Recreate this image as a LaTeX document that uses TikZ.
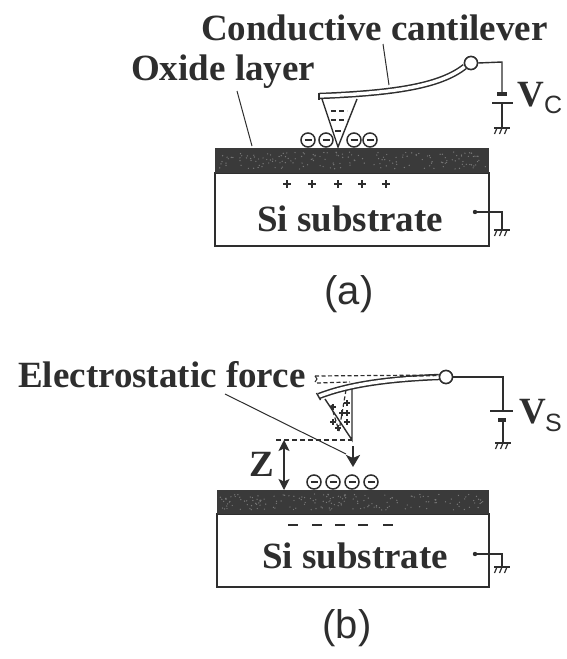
\documentclass[tikz,border=0pt]{standalone}
\usepackage{fontspec}
\setmainfont{Liberation Serif}
\setsansfont{Liberation Sans}
\usetikzlibrary{arrows.meta}
\definecolor{ink}{HTML}{2E2E2E}
\definecolor{oxide}{HTML}{3A3A3A}
\definecolor{speck}{HTML}{7A7A7A}
\tikzset{
  wire/.style={draw=ink,line width=1.4pt},
  leaderline/.style={draw=ink,line width=1pt},
  lbl/.style={inner sep=0pt,anchor=base west,text=ink,font=\bfseries\fontsize{37}{39}\selectfont},
  subscr/.style={inner sep=0pt,anchor=base west,text=ink,font=\fontsize{25}{27}\selectfont\sffamily},
  figcap/.style={inner sep=0pt,anchor=center,text=ink,font=\sffamily\fontsize{40}{42}\selectfont},
  ecirc/.style={circle,draw=ink,line width=1.5pt,fill=white,minimum size=14pt,inner sep=0pt},
  jointc/.style={circle,draw=ink,line width=1.5pt,fill=white,minimum size=13pt,inner sep=0pt},
  beam/.style={draw=ink,line width=1.5pt,double=white,double distance=3.4pt},
  markdash/.style={draw=ink,line width=1.4pt,dash pattern=on 5pt off 3pt},
  restdash/.style={draw=ink,line width=1.2pt,dash pattern=on 4pt off 2.5pt},
  crossmark/.style={draw=ink,line width=1.5pt},
  forcearrow/.style={draw=ink,line width=2.4pt,-{Stealth[length=12pt,width=14pt,inset=3pt]}},
  zarrow/.style={draw=ink,line width=1.6pt,{Stealth[length=11pt,width=11pt,inset=2.5pt]}-{Stealth[length=11pt,width=11pt,inset=2.5pt]}},
}
\newcommand{\gndsym}[2]{%
  \draw[wire] (#1-8,#2)--(#1+8,#2);
  \foreach \dx in {-5,0,5}{\draw[draw=ink,line width=1.2pt] (#1+\dx,#2)--(#1+\dx-2.5,#2+6);}
}
\newcommand{\chg}[3]{\node[ecirc] (#1) at (#2,#3) {}; \draw[draw=ink,line width=1.5pt] (#2-3.5,#3)--(#2+3.5,#3);}
\newcommand{\oxidebar}[4]{%
  \fill[oxide] (#1,#2) rectangle (#3,#4);
  \pgfmathsetseed{#2}
  \foreach \i in {1,...,170}{
    \pgfmathsetmacro{\xx}{#1+3+rnd*(#3-#1-6)}
    \pgfmathsetmacro{\yy}{#2+4+rnd*(#4-#2-8)}
    \fill[speck] (\xx,\yy) circle (0.7pt);
  }
}
\begin{document}
\begin{tikzpicture}[x=1pt,y=-1pt]
\useasboundingbox[fill=white] (0,0) rectangle (566,659);
% ---------- (a)
\node[lbl] (ctitle) at (201,40) {Conductive cantilever};
\node[lbl] (otitle) at (131,80) {Oxide layer};
\draw[draw=ink,line width=1.5pt,fill=white] (215,173) rectangle (489,246);
\oxidebar{215}{148}{489}{173}
\node[lbl] (si1) at (257,231) {Si substrate};
% tip
\coordinate (tipL) at (322,99); \coordinate (tipR) at (357,99); \coordinate (tipA) at (338,147);
\draw[wire,fill=white] (tipL)--(tipA)--(tipR);
\draw[markdash] (331,111)--(347,111);
\draw[markdash] (331,120)--(347,120);
\draw[draw=ink,line width=1.3pt] (335,131)--(341,131);
% charges
\chg{a1}{308}{140}\chg{a2}{326}{140}\chg{a3}{354}{140}\chg{a4}{370}{140}
% beam
\node[jointc] (jointa) at (471,63) {};
\coordinate (beamLa) at (319,96);
\draw[beam] (beamLa) .. controls (395,93) and (440,86) .. (jointa.210);
\draw[wire] (319,92.5)--(319,99.5);
\node[jointc] at (471,63) {};
% wire
\coordinate (va) at (502,62);
\coordinate (vab) at (502,128);
\draw[wire] (jointa.east)--(va)--(502,93);
\fill[ink] (497,91.5) rectangle (507,96);
\draw[draw=ink,line width=1.8pt] (492,103)--(513,103);
\draw[wire] (502,103)--(vab);
\gndsym{502}{128}
\node[lbl] (vc) at (517,106) {V};
\node[subscr] (vcs) at (544,113) {C};
% leaders
\coordinate (cl1) at (383,44); \coordinate (cl2) at (389,85);
\draw[leaderline] (cl1)--(cl2);
\coordinate (ol1) at (237,91); \coordinate (ol2) at (252,146);
\draw[leaderline] (ol1)--(ol2);
% plus
\foreach \x in {287,312,338,362,386}{\draw[crossmark] (\x-4,184)--(\x+4,184) (\x,180)--(\x,188);}
% ground substrate
\fill[ink] (475,212) circle (2.2pt);
\coordinate (ga) at (475,212);
\draw[wire] (ga)--(502,212)--(502,230);
\gndsym{502}{230}
\node[figcap] (capa) at (349,294) {(a)};
% ---------- (b)
\node[lbl] (etitle) at (18,387) {Electrostatic force};
\draw[draw=ink,line width=1.5pt,fill=white] (217,514) rectangle (489,587);
\oxidebar{217}{490}{489}{514}
\node[lbl] (si2) at (262,568) {Si substrate};
% dashed rest position
\draw[restdash] (315,376)--(440,375);
\draw[restdash] (317,383)--(350,382);
\draw[draw=ink,line width=1pt] (315,376)--(317,379)--(315,382);
% tip
\coordinate (tbL) at (325,399); \coordinate (tbR) at (352,388); \coordinate (tbA) at (352,440);
\draw[wire,fill=white] (tbL)--(tbA)--(tbR);
\draw[restdash] (346,390)--(339,431);
\draw[restdash] (331,405)--(339,431);
\foreach \x/\y in {333/407,347/403,342/413,347/413,333/422,347/422,338/428}{
  \draw[draw=ink,line width=1.4pt] (\x-3,\y)--(\x+3,\y) (\x,\y-3)--(\x,\y+3);
}
% beam
\node[jointc] (jointb) at (446,377) {};
\coordinate (beamLb) at (319,396);
\draw[beam] (beamLb) .. controls (350,384) and (390,379) .. (jointb.west);
\draw[wire] (316.5,393)--(320.5,400);
\draw[restdash] (400,376.5)--(440,375.5);
\node[jointc] at (446,377) {};
% wire
\draw[wire] (jointb.east)--(503,377)--(503,411);
\draw[draw=ink,line width=1.8pt] (490,411)--(513,411);
\fill[ink] (498,418) rectangle (506,422);
\draw[wire] (503,420)--(503,443);
\gndsym{503}{443}
\node[lbl] (vs) at (519,423) {V};
\node[subscr] (vss) at (545,431) {S};
% Z
\coordinate (z1) at (276,440);
\draw[markdash] (z1)--(tbA);
\coordinate (zt) at (284,440); \coordinate (zb) at (284,490);
\draw[zarrow] (zt)--(zb);
\node[lbl] (zl) at (249,476) {Z};
% force
\coordinate (f1) at (353,446); \coordinate (f2) at (353,467);
\draw[forcearrow] (f1)--(f2);
% leader
\coordinate (el1) at (225,394); \coordinate (el2) at (346,454);
\draw[leaderline] (el1)--(el2);
% charges
\chg{b1}{314}{482}\chg{b2}{333}{482}\chg{b3}{352}{482}\chg{b4}{371}{482}
% minus
\foreach \x in {293,317,340,363,388}{\draw[draw=ink,line width=1.8pt] (\x-5,525)--(\x+5,525);}
% ground substrate
\fill[ink] (475,554) circle (2.2pt);
\coordinate (gb) at (475,554);
\draw[wire] (gb)--(502,554)--(502,567);
\gndsym{502}{567}
\node[figcap] (capb) at (347,628) {(b)};
\end{tikzpicture}
\end{document}
